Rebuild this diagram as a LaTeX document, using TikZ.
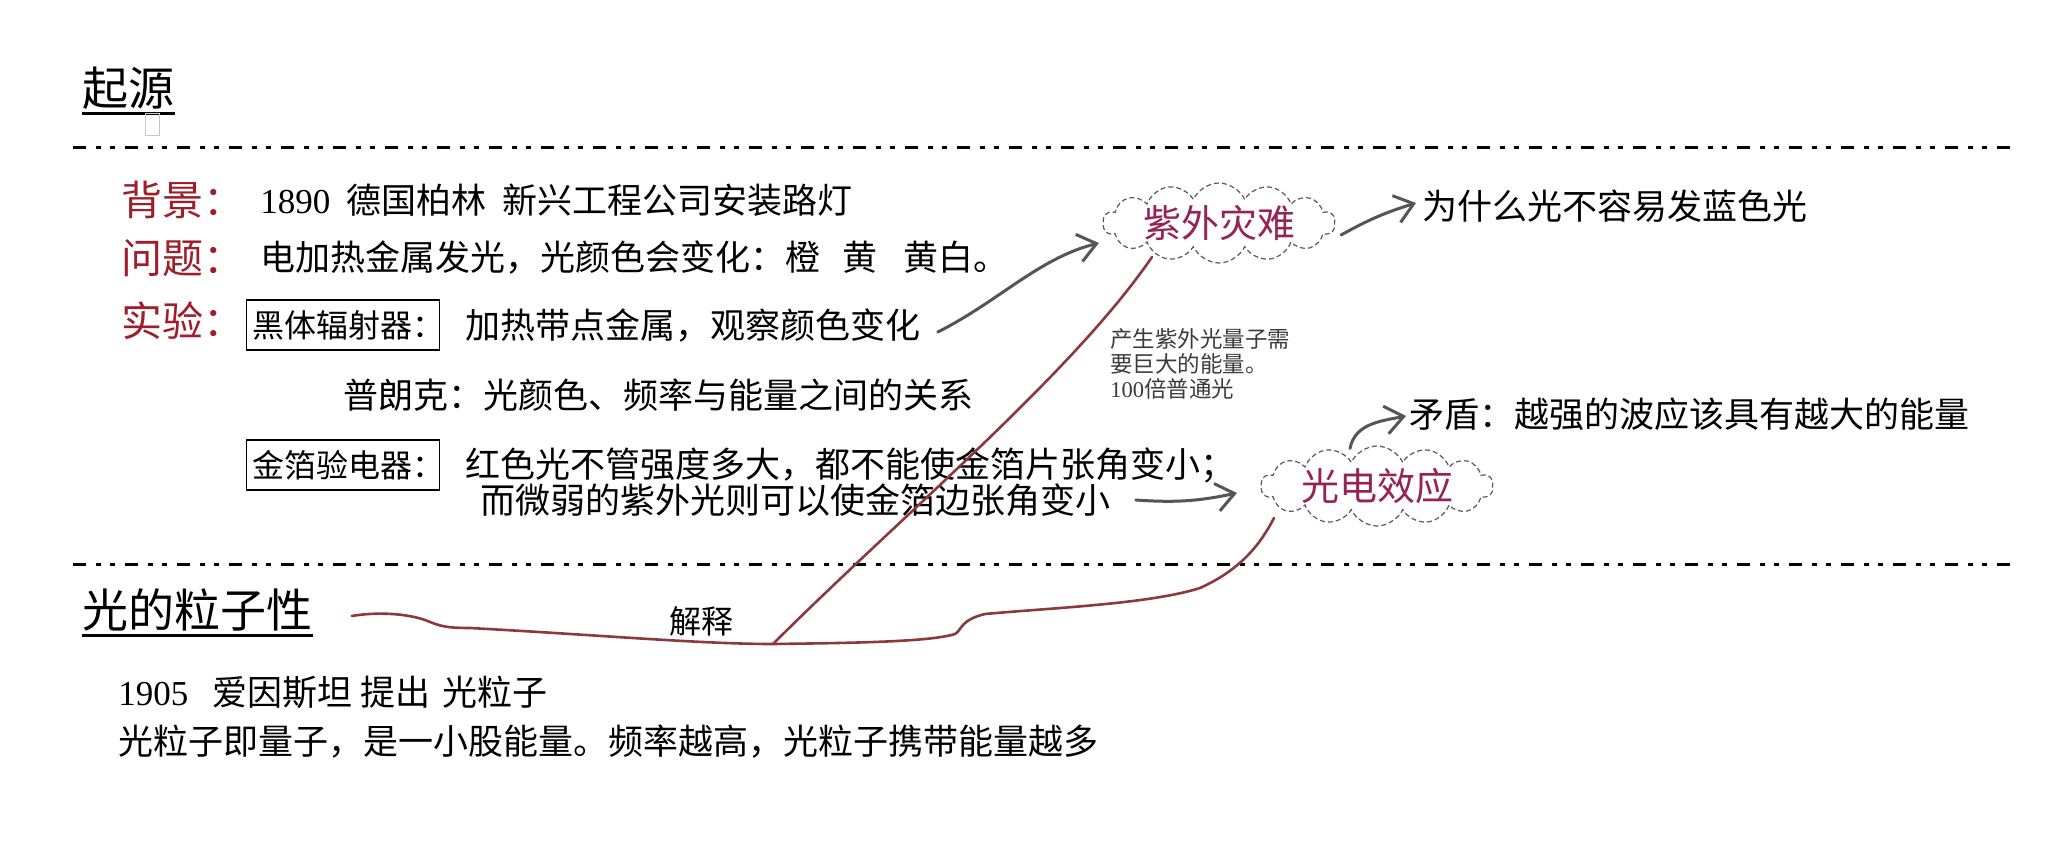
\documentclass[tikz,border=0pt]{standalone}
\usepackage{fontspec}
\newfontfamily\cjk{Noto Sans CJK SC}
\newfontfamily\numf{Liberation Serif}
\usetikzlibrary{shapes.symbols,arrows.meta,calc}
\definecolor{headred}{RGB}{158,30,42}
\definecolor{cloudtxt}{RGB}{150,35,85}
\definecolor{brownline}{RGB}{138,58,62}
\definecolor{arrowgray}{RGB}{85,85,85}
\definecolor{cloudline}{RGB}{90,90,90}
\definecolor{notegray}{RGB}{60,60,60}
\begin{document}
\begin{tikzpicture}[x=0.5pt,y=-0.5pt,
  titletxt/.style={font=\cjk\fontsize{23pt}{27pt}\selectfont, anchor=west, inner sep=0pt},
  headtxt/.style={font=\cjk\fontsize{20.5pt}{24pt}\selectfont, text=headred, anchor=west, inner sep=0pt},
  bodytxt/.style={font=\cjk\fontsize{17.5pt}{21pt}\selectfont, anchor=west, inner sep=0pt},
  boxtxt/.style={font=\cjk\fontsize{16pt}{19pt}\selectfont, anchor=west, draw, line width=0.6pt, inner xsep=3pt, inner ysep=0pt, minimum height=25pt},
  notetxt/.style={font=\cjk\fontsize{11.25pt}{12.3pt}\selectfont, text=notegray, anchor=west, align=left, inner sep=0pt},
  cloudbox/.style={cloud, cloud puffs=14, cloud puff arc=130, cloud ignores aspect, draw=cloudline, line width=0.6pt, dash pattern=on 2.5pt off 1.5pt, minimum width=116pt, minimum height=40pt, inner sep=0pt, font=\cjk\fontsize{19pt}{22pt}\selectfont, text=cloudtxt},
  sepline/.style={line width=1.5pt, dash pattern=on 6.5pt off 5pt on 2.5pt off 4.5pt on 2.5pt off 5pt},
  uline/.style={line width=1.4pt},
  garrow/.style={draw=arrowgray, line width=1.5pt, line cap=round, -{Straight Barb[length=9pt,width=14pt,line width=1.5pt]}},
  brownl/.style={draw=brownline, line width=1.3pt, line cap=round, line join=round}
]
\useasboundingbox (0,0) rectangle (2056,862);
\fill[white] (0,0) rectangle (2056,862);

% title
\node[titletxt] (qy) at (82,88) {起源};
\draw[uline] ([yshift=-2pt]qy.south west) -- ([yshift=-2pt]qy.south east);
\node[draw=gray!45, line width=0.5pt, minimum width=7pt, minimum height=11pt, inner sep=0pt] (sq) at (152,124) {};

% separators
\coordinate (s1a) at (73,147);
\coordinate (s1b) at (2017,147);
\draw[sepline] (s1a) -- (s1b);
\coordinate (s2a) at (73,564);
\coordinate (s2b) at (2017,564);
\draw[sepline] (s2a) -- (s2b);

% rows
\node[headtxt] (h1) at (121,200) {背景：};
\node[bodytxt] (t1) at (260,200) {{\numf 1890}\hspace{8pt}德国柏林\hspace{8pt}新兴工程公司安装路灯};
\node[headtxt] (h2) at (121,258) {问题：};
\node[bodytxt] (t2) at (260,258) {电加热金属发光，光颜色会变化：橙\hspace{11pt}黄\hspace{13pt}黄白。};
\node[headtxt] (h3) at (121,321) {实验：};
\node[boxtxt] (b1) at (246,325) {黑体辐射器：\kern-0.35em};
\node[bodytxt] (t3) at (465,326) {加热带点金属，观察颜色变化};
\node[bodytxt] (t4) at (343,395) {普朗克：光颜色、频率与能量之间的关系};
\node[boxtxt] (b2) at (246,465) {金箔验电器：\kern-0.35em};
\node[bodytxt] (t5) at (465,465) {红色光不管强度多大，都不能使金箔片张角变小；};
\node[bodytxt] (t6) at (480,500) {而微弱的紫外光则可以使金箔边张角变小};

% lower section
\node[titletxt] (p) at (82,610) {光的粒子性};
\draw[uline] ([yshift=-2pt]p.south west) -- ([yshift=-2pt]p.south east);
\node[bodytxt, anchor=center, font=\cjk\fontsize{16pt}{19pt}\selectfont] (js) at (701,621) {解释};
\node[bodytxt] (t7) at (118,692) {{\numf 1905}\hspace{12pt}爱因斯坦\hspace{4pt}提出\hspace{6pt}光粒子};
\node[bodytxt] (t8) at (118,742) {光粒子即量子，是一小股能量。频率越高，光粒子携带能量越多};

% clouds and side texts
\node[cloudbox] (c1) at (1219,223) {紫外灾难};
\node[bodytxt] (t9) at (1422,206) {为什么光不容易发蓝色光};
\node[notetxt] (n1) at (1110,364) {产生紫外光量子需\\要巨大的能量。\\{\numf 100}倍普通光};
\node[cloudbox] (c2) at (1377,486) {光电效应};
\node[bodytxt] (t10) at (1409,414) {矛盾：越强的波应该具有越大的能量};

% gray arrows
\draw[garrow] ($(t3.east)+(17,6)$) .. controls +(60,-30) and +(-60,15) .. ($(c1.west)+(-4,20)$);
\draw[garrow] ($(c1.east)+(6,12)$) to[bend left=6] ($(t9.west)+(-6,-3)$);
\draw[garrow] ($(t6.east)+(25,0)$) to[bend right=8] ($(c2.west)+(-24,7)$);
\draw[garrow] ($(c2.north)+(-27,3)$) .. controls +(5,-25) and +(-25,5) .. ($(t10.west)+(-3,2)$);

% brown curves
\coordinate (bs) at ($(p.east)+(39,6)$);
\coordinate (j) at (773,644);
\coordinate (be) at ($(c2.center)+(-103,32)$);
\coordinate (bt) at ($(c1.center)+(-67,34)$);
\draw[brownl] (bs) .. controls (375,612) and (405,613) .. (425,620)
  .. controls (440,626) and (445,628) .. (470,628)
  .. controls (600,635) and (700,644) .. (j)
  .. controls (850,643) and (930,642) .. (955,634)
  .. controls (962,630) and (960,620) .. (985,614)
  .. controls (1050,608) and (1150,604) .. (1200,588)
  .. controls (1240,570) and (1260,545) .. (be);
\draw[brownl] (j) .. controls +(127,-127) and +(-80,117) .. (bt);
\end{tikzpicture}
\end{document}
